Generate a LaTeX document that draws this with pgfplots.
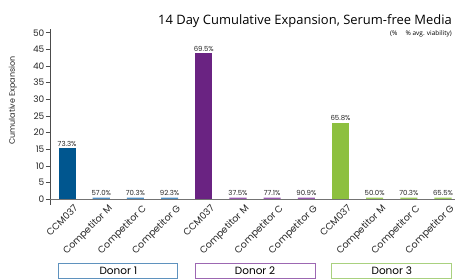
\documentclass[border=0pt]{standalone}
\usepackage{pgfplots}
\pgfplotsset{compat=1.18}
\usepackage{fontspec}
\setmainfont{Poppins}
\newfontfamily\titlefont{Open Sans}
\definecolor{dblue}{HTML}{00568F}
\definecolor{lblue}{HTML}{4F8EC2}
\definecolor{dpurple}{HTML}{6A2382}
\definecolor{lpurple}{HTML}{9A5AB0}
\definecolor{dgreen}{HTML}{8DC03F}
\definecolor{lgreen}{HTML}{9CCB5C}
\definecolor{bblue}{HTML}{5F92BE}
\definecolor{bpurple}{HTML}{9C67B2}
\definecolor{bgreen}{HTML}{A9D17F}
\begin{document}
\begin{tikzpicture}[x=1bp,y=1bp]
\begin{axis}[
  at={(0,0)}, anchor=south west,
  scale only axis, width=405bp, height=175.2bp,
  xmin=-0.5, xmax=11.35, ymin=-1.6, ymax=51,
  axis x line*=bottom,
  axis y line*=left,
  x axis line style={draw=none},
  xtick={0,...,11},
  xticklabels={CCM037,Competitor M,Competitor C,Competitor G,CCM037,Competitor M,Competitor C,Competitor G,CCM037,Competitor M,Competitor C,Competitor G},
  xtick style={draw=none},
  xticklabel style={rotate=45, anchor=north east, inner sep=0pt, xshift=8bp, yshift=-1bp, font=\fontsize{9.5}{9.5}\selectfont, text=black!85},
  y axis line style={draw=black!70, line width=0.6pt},
  ytick={0,5,...,50},
  ytick style={draw=black!70, line width=0.5pt},
  tick align=outside, major tick length=4bp,
  yticklabel style={font=\fontsize{9}{9}\selectfont, text=black!85, inner sep=1.5bp},
  /pgf/number format/assume math mode=true,
  ybar, bar width=0.5, bar shift=0pt,
  clip=false,
  point meta=explicit symbolic,
  nodes near coords,
  nodes near coords style={font=\fontsize{7}{7}\selectfont, text=black!85, inner sep=1.5bp},
]
\addplot[fill=dblue, draw=none] coordinates {(0,15.4)[73.3\%]};
\addplot[fill=lblue, draw=none] coordinates {(1,0.5)[57.0\%] (2,0.5)[70.3\%] (3,0.5)[92.3\%]};
\addplot[fill=dpurple, draw=none] coordinates {(4,43.8)[69.5\%]};
\addplot[fill=lpurple, draw=none] coordinates {(5,0.5)[37.5\%] (6,0.5)[77.1\%] (7,0.5)[90.9\%]};
\addplot[fill=dgreen, draw=none] coordinates {(8,23.0)[65.8\%]};
\addplot[fill=lgreen, draw=none] coordinates {(9,0.5)[50.0\%] (10,0.5)[70.3\%] (11,0.5)[65.5\%]};
\draw[black!55, line width=0.6pt] (axis cs:-0.5,0) -- (axis cs:11.35,0);
\node[draw=bblue, line width=0.9pt, minimum width=119bp, minimum height=15bp, inner sep=0pt, font=\fontsize{10.5}{10.5}\selectfont] at ([yshift=-66.4bp]axis cs:1.5,-1.6) {Donor 1};
\node[draw=bpurple, line width=0.9pt, minimum width=120bp, minimum height=15bp, inner sep=0pt, font=\fontsize{10.5}{10.5}\selectfont] at ([yshift=-66.4bp]axis cs:5.5,-1.6) {Donor 2};
\node[draw=bgreen, line width=0.9pt, minimum width=120bp, minimum height=15bp, inner sep=0pt, font=\fontsize{10.5}{10.5}\selectfont] at ([yshift=-66.4bp]axis cs:9.5,-1.6) {Donor 3};
\end{axis}
\node[rotate=90, anchor=center, inner sep=0pt, font=\fontsize{8}{8}\selectfont, text=black!85] at (-37bp,104bp) {Cumulative Expansion};
\node[anchor=base east, inner sep=0pt, font=\titlefont\fontsize{13}{13}\selectfont] at (402bp,180bp) {14 Day Cumulative Expansion, Serum-free Media};
\node[anchor=base east, inner sep=0pt, font=\titlefont\fontsize{6.5}{6.5}\selectfont] at (402bp,169bp) {(\%\quad\ \% avg. viability)};
\pgfresetboundingbox
\useasboundingbox (-50bp,-75.4bp) rectangle (407bp,204.6bp);
\end{tikzpicture}
\end{document}
